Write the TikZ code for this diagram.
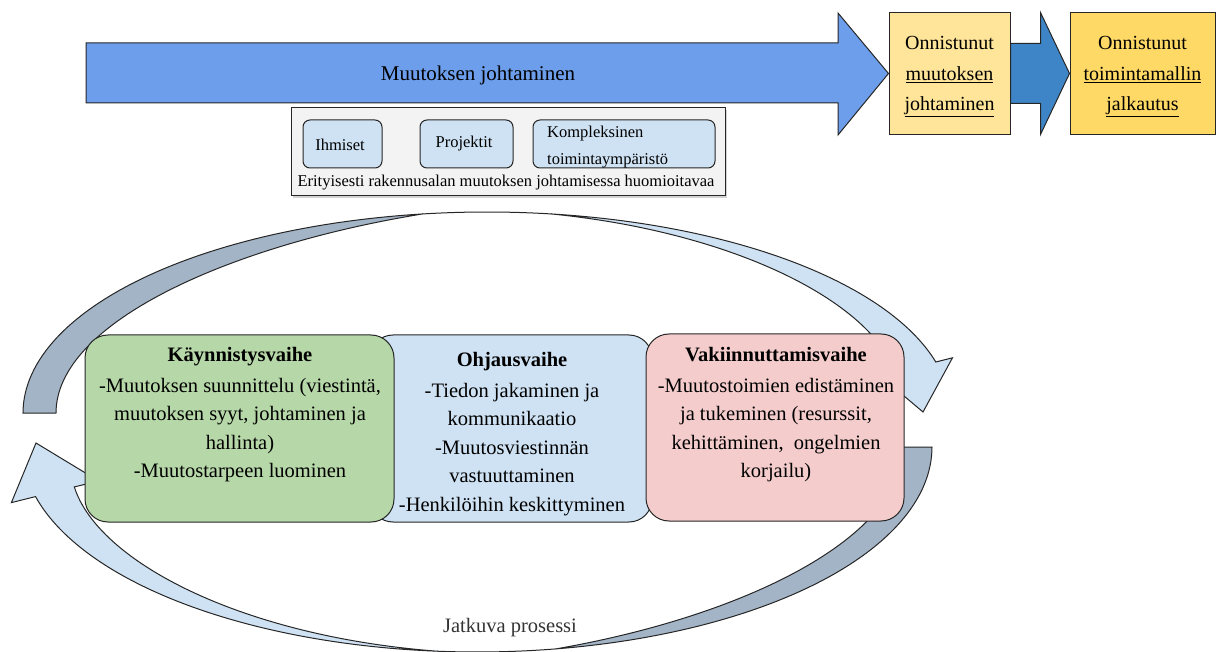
\documentclass[tikz,border=0pt]{standalone}
\usepackage{fontspec}
\setmainfont{Liberation Serif}
\usetikzlibrary{calc,shadows}
\definecolor{bigblue}{HTML}{6D9EEB}
\definecolor{darkblue}{HTML}{3D85C6}
\definecolor{yellowA}{HTML}{FFE599}
\definecolor{yellowB}{HTML}{FFD966}
\definecolor{lightblue}{HTML}{CFE2F3}
\definecolor{grayblue}{HTML}{A3B4C7}
\definecolor{phgreen}{HTML}{B6D7A8}
\definecolor{phpink}{HTML}{F4CCCC}
\definecolor{boxgray}{HTML}{F3F3F3}
\begin{document}
\begin{tikzpicture}[x=1pt,y=-1pt,
  outl/.style={draw=black!85, line width=1pt},
  ybox/.style={outl, minimum width=121pt, minimum height=122pt, inner sep=0pt},
  ytext/.style={align=center, inner sep=0pt, font=\fontsize{20}{30.5}\selectfont},
  smallbox/.style={outl, fill=lightblue, rounded corners=7pt, minimum height=48pt, inner sep=0pt},
  smalltext/.style={font=\fontsize{16.5}{27}\selectfont, inner sep=0pt},
  phase/.style={outl, rounded corners=23pt, minimum height=187pt, inner sep=0pt},
  phtext/.style={font=\fontsize{20.5}{28.5}\selectfont, align=center, inner sep=0pt, anchor=north}]
\useasboundingbox (0,0) rectangle (1216,652);

% ---------- top row ----------
\node[ybox, fill=yellowA] (y1) at (949.5,73.5) {};
\node[ytext] (y1t) at ($(y1.center)+(0,3.5)$) {Onnistunut\\\underline{muutoksen}\\\underline{johtaminen}};
\node[ybox, fill=yellowB, minimum width=145pt] (y2) at (1142.5,73.5) {};
\node[ytext] (y2t) at ($(y2.center)+(0,3.5)$) {Onnistunut\\\underline{toimintamallin}\\\underline{jalkautus}};

\filldraw[outl, fill=bigblue] (86,43) -- (838,43) -- (838,13) -- (y1.west) -- (838,135) -- (838,103) -- (86,103) -- cycle;
\node[font=\fontsize{21}{25}\selectfont] (mj) at (478,75) {Muutoksen johtaminen};

\filldraw[outl, fill=darkblue] ($(y1.east)+(0,-30)$) -- ($(y1.east)+(30,-30)$) -- ($(y1.east)+(30,-61)$) -- (y2.west) -- ($(y1.east)+(30,61)$) -- ($(y1.east)+(30,30)$) -- ($(y1.east)+(0,30)$) -- cycle;

% ---------- considerations box ----------
\node[outl, fill=boxgray, minimum width=434pt, minimum height=88pt, inner sep=0pt,
      drop shadow={opacity=0.35, shadow xshift=2pt, shadow yshift=-2pt}] (erit) at (508,152) {};
\node[smallbox, minimum width=79pt] (ihm) at (342.5,144) {};
\node[smalltext] (ihmt) at (340,145) {Ihmiset};
\node[smallbox, minimum width=93pt] (proj) at (466.5,144) {};
\node[smalltext] (projt) at (464,144) {Projektit};
\node[smallbox, minimum width=182pt] (komp) at (624,144) {};
\node[smalltext, align=left, anchor=west] (kompt) at (547,147) {Kompleksinen\\toimintaympäristö};
\node[smalltext] (eritt) at (506,183) {Erityisesti rakennusalan muutoksen johtamisessa huomioitavaa};

% ---------- cycle arrows ----------
% top arc: grey underside
\filldraw[outl, fill=grayblue]
  plot[domain=180:98, samples=60, variable=\t] ({487+464*cos(\t)},{413-201*sin(\t)})
  -- plot[domain=98:180, samples=60, variable=\t] ({487+(464-33*((\t-98)/82)*(2-(\t-98)/82))*cos(\t)},{413-(201-33*((\t-98)/82)*(2-(\t-98)/82))*sin(\t)})
  -- cycle;
\draw[outl] plot[domain=98:82, samples=20, variable=\t] ({487+464*cos(\t)},{413-201*sin(\t)});
% top arc: light face with head
\filldraw[outl, fill=lightblue]
  plot[domain=82:14.7, samples=60, variable=\t] ({487+464*cos(\t)},{413-201*sin(\t)})
  -- (952.5,357.8) -- (923,412) -- (880.5,376.2)
  -- plot[domain=14.7:82, samples=60, variable=\t] ({487+(464-20*((82-\t)/65)*(1+(82-\t)/65))*cos(\t)},{413-(201-20*((82-\t)/65)*(1+(82-\t)/65))*sin(\t)})
  -- cycle;

% bottom arc: grey underside
\filldraw[outl, fill=grayblue]
  plot[domain=0:80, samples=60, variable=\t] ({477+455*cos(\t)},{447+205*sin(\t)})
  -- plot[domain=80:0, samples=60, variable=\t] ({477+(455-29*((80-\t)/80)*(2-(80-\t)/80))*cos(\t)},{447+(205-29*((80-\t)/80)*(2-(80-\t)/80))*sin(\t)})
  -- cycle;
\draw[outl] plot[domain=80:95, samples=20, variable=\t] ({477+455*cos(\t)},{447+205*sin(\t)});
% bottom arc: light face with head
\filldraw[outl, fill=lightblue]
  plot[domain=95:166, samples=60, variable=\t] ({477+455*cos(\t)},{447+205*sin(\t)})
  -- (11.4,502.6) -- (36,443) -- (98.7,481)
  -- plot[domain=166:95, samples=60, variable=\t] ({477+(455-20*((\t-95)/71)*(1+(\t-95)/71))*cos(\t)},{447+(205-20*((\t-95)/71)*(1+(\t-95)/71))*sin(\t)})
  -- cycle;

\node[font=\fontsize{20.5}{25}\selectfont, text=black!80] (jat) at (510,628) {Jatkuva prosessi};

% ---------- phases ----------
\node[phase, fill=lightblue, minimum width=282pt] (ohj) at (511,428.5) {};
\node[phase, fill=phgreen, minimum width=309pt] (kay) at (239.5,428.5) {};
\node[phase, fill=phpink, minimum width=258pt] (vak) at (775,427.5) {};

\node[phtext] (kayt) at (240,347) {\textbf{Käynnistysvaihe}\\[2.5pt]-Muutoksen suunnittelu (viestintä,\\muutoksen syyt, johtaminen ja\\hallinta)\\-Muutostarpeen luominen};
\node[phtext] (ohjt) at (512,352) {\textbf{Ohjausvaihe}\\[2.5pt]-Tiedon jakaminen ja\\kommunikaatio\\-Muutosviestinnän\\vastuuttaminen\\-Henkilöihin keskittyminen};
\node[phtext] (vakt) at (776,347) {\textbf{Vakiinnuttamisvaihe}\\[2.5pt]-Muutostoimien edistäminen\\ja tukeminen (resurssit,\\kehittäminen,\ \ ongelmien\\korjailu)};
\end{tikzpicture}
\end{document}
